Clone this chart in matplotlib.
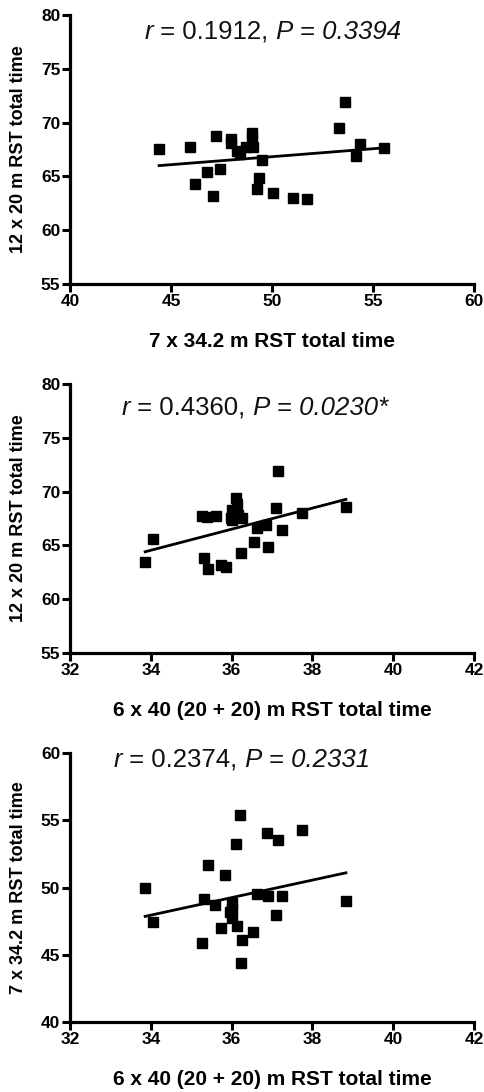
import numpy as np
import matplotlib
matplotlib.use("Agg")
import matplotlib.pyplot as plt
from matplotlib.offsetbox import TextArea, HPacker, AnnotationBbox

plt.rcParams['font.family'] = ['Liberation Sans', 'DejaVu Sans']

# Panel 1: 7 x 34.2 m (x) vs 12 x 20 m (y)
p1_x = [44.41, 45.95, 46.17, 46.76, 47.07, 47.22, 47.44, 47.95, 47.95, 48.28, 48.41,
        48.69, 48.99, 49.02, 49.07, 49.26, 49.37, 49.50, 50.03, 51.04, 51.74, 53.32,
        53.60, 54.17, 54.36, 55.52]
p1_y = [67.55, 67.74, 64.30, 65.39, 63.16, 68.79, 65.67, 68.51, 68.14, 67.40, 67.06,
        67.77, 69.01, 68.54, 67.77, 63.87, 64.89, 66.50, 63.50, 63.03, 62.91, 69.47,
        71.89, 66.93, 67.99, 67.65]

# Panel 2: 6 x 40 m (x) vs 12 x 20 m (y)
p2_x = [33.86, 34.05, 35.26, 35.39, 35.61, 35.31, 35.42, 35.73, 35.86, 35.98, 36.01,
        36.11, 36.14, 36.25, 36.24, 36.55, 36.64, 36.85, 36.90, 37.09, 37.15, 37.24,
        37.75, 38.83, 36.02, 36.17]
p2_y = [63.47, 65.63, 67.71, 67.62, 67.71, 63.84, 62.85, 63.16, 63.00, 67.55, 68.33,
        69.44, 68.89, 67.55, 64.27, 65.36, 66.59, 66.90, 64.86, 68.51, 71.89, 66.41,
        68.05, 68.61, 67.40, 67.86]

# Panel 3: 6 x 40 m (x) vs 7 x 34.2 m (y)
p3_x = [33.86, 34.05, 35.26, 35.31, 35.42, 35.59, 35.74, 35.84, 35.96, 36.00, 36.02,
        36.11, 36.14, 36.21, 36.25, 36.24, 36.54, 36.64, 36.87, 36.90, 37.09, 37.15,
        37.24, 37.75, 38.83, 36.00]
p3_y = [49.94, 47.41, 45.87, 49.17, 51.70, 48.67, 46.96, 50.95, 48.15, 48.85, 47.73,
        53.23, 47.11, 55.42, 46.12, 44.36, 46.67, 49.49, 54.08, 49.34, 47.96, 53.51,
        49.39, 54.25, 48.97, 48.40]

stats_r = ['0.1912', '0.4360', '0.2374']
stats_p = ['0.3394', '0.0230*', '0.2331']

panels = [
    dict(x=p1_x, y=p1_y, xlim=(40, 60), xticks=[40, 45, 50, 55, 60],
         ylim=(55, 80), yticks=[55, 60, 65, 70, 75, 80],
         xlabel='7 x 34.2 m RST total time', ylabel='12 x 20 m RST total time',
         lpos=(273, 32), box=[70, 15, 474, 284]),
    dict(x=p2_x, y=p2_y, xlim=(32, 42), xticks=[32, 34, 36, 38, 40, 42],
         ylim=(55, 80), yticks=[55, 60, 65, 70, 75, 80],
         xlabel='6 x 40 (20 + 20) m RST total time', ylabel='12 x 20 m RST total time',
         lpos=(255, 408), box=[70, 384, 474, 653]),
    dict(x=p3_x, y=p3_y, xlim=(32, 42), xticks=[32, 34, 36, 38, 40, 42],
         ylim=(40, 60), yticks=[40, 45, 50, 55, 60],
         xlabel='6 x 40 (20 + 20) m RST total time', ylabel='7 x 34.2 m RST total time',
         lpos=(242, 760), box=[70, 753, 474, 1022]),
]

W, H = 484, 1092
fig = plt.figure(figsize=(W / 100, H / 100), dpi=100)

for i, p in enumerate(panels):
    l, t, r, b = p['box']
    ax = fig.add_axes([l / W, 1 - b / H, (r - l) / W, (b - t) / H])
    x = np.array(p['x']); y = np.array(p['y'])
    ax.plot(x, y, 's', color='black', markersize=7.8, clip_on=False, zorder=3)
    k, c = np.polyfit(x, y, 1)
    xx = np.array([x.min(), x.max()])
    ax.plot(xx, k * xx + c, color='black', linewidth=2, zorder=2)
    ax.set_xlim(*p['xlim']); ax.set_ylim(*p['ylim'])
    ax.set_xticks(p['xticks']); ax.set_yticks(p['yticks'])
    for s in ['top', 'right']:
        ax.spines[s].set_visible(False)
    for s in ['left', 'bottom']:
        ax.spines[s].set_linewidth(2.3)
    ax.tick_params(direction='out', length=5.5, width=2.2, labelsize=12.5, pad=1.5)
    for lab in ax.get_xticklabels() + ax.get_yticklabels():
        lab.set_fontweight('bold')
    ax.set_xlabel(p['xlabel'], fontsize=15, fontweight='bold', labelpad=17)
    ax.set_ylabel(p['ylabel'], fontsize=13, fontweight='bold', labelpad=10)

    parts = [('r', 'italic'), (' = ' + stats_r[i] + ',', 'normal'),
             (' P', 'italic'), (' =', 'normal'), (' ' + stats_p[i], 'italic')]
    boxes = [TextArea(s, textprops=dict(fontsize=18.5, fontstyle=st, color='#111111'))
             for s, st in parts]
    pack = HPacker(children=boxes, pad=0, sep=0, align='baseline')
    ab = AnnotationBbox(pack, (p['lpos'][0], H - p['lpos'][1]), xycoords='figure pixels',
                        frameon=False, box_alignment=(0.5, 0.5))
    fig.add_artist(ab)

fig.savefig('out.png', dpi=100)
